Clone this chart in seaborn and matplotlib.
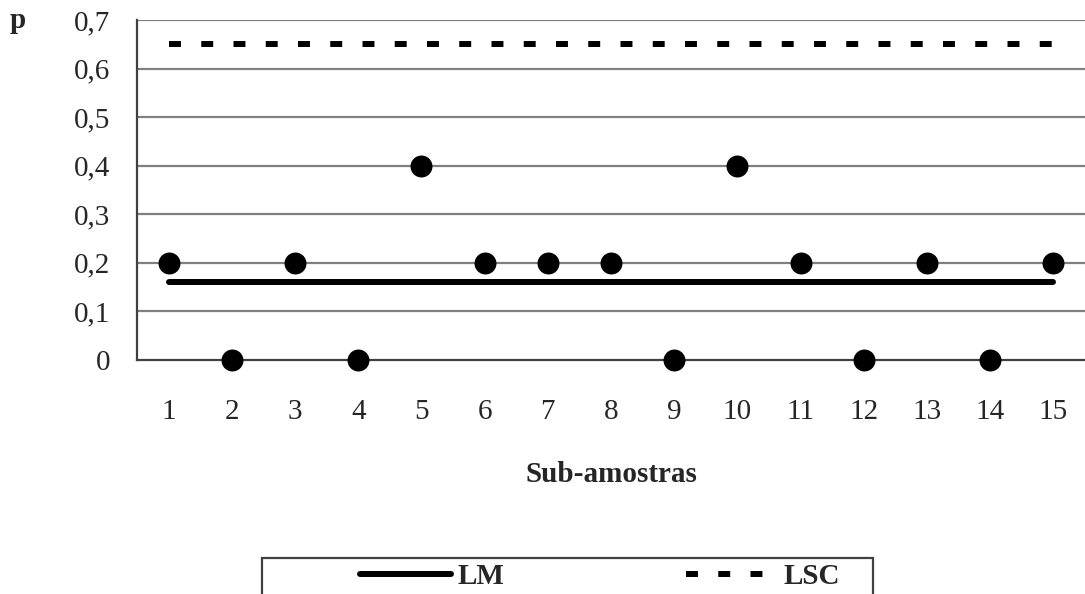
import matplotlib
matplotlib.use("Agg")
import matplotlib.pyplot as plt
import seaborn as sns
import pandas as pd
import numpy as np
from matplotlib.ticker import FixedLocator
from matplotlib.patches import Rectangle

sns.set_theme(style="white")
plt.rcParams['font.family'] = ['Liberation Serif', 'DejaVu Serif']

subamostras = list(range(1, 16))
p_values = [0.2, 0.0, 0.2, 0.0, 0.4, 0.2, 0.2, 0.2, 0.0, 0.4, 0.2, 0.0, 0.2, 0.0, 0.2]
lm_value = 0.16
lsc_value = 0.65
y_ticks = [0, 0.1, 0.2, 0.3, 0.4, 0.5, 0.6, 0.7]
y_tick_labels = ["0", "0,1", "0,2", "0,3", "0,4", "0,5", "0,6", "0,7"]

df = pd.DataFrame({"x": subamostras, "p": p_values,
                   "LM": [lm_value] * len(subamostras),
                   "LSC": [lsc_value] * len(subamostras)})

W, H = 1085, 594
fig = plt.figure(figsize=(W / 100, H / 100), dpi=100)
ax = fig.add_axes([137 / W, 1 - 360 / H, 1 - 137 / W, 340 / H])

FS = 21
ax.set_ylim(0, 0.7)
ax.set_xlim(0.5, 15.5)

for y in y_ticks[1:]:
    ax.axhline(y, color="#808080", lw=1.6, zorder=1)

sns.lineplot(data=df, x="x", y="LM", ax=ax, color="black", lw=4.3,
             solid_capstyle="round", label="LM", zorder=3)
sns.lineplot(data=df, x="x", y="LSC", ax=ax, color="black", lw=4.3,
             label="LSC", zorder=3)
ax.lines[-1].set_dashes((2, 3.4))
ax.lines[-1].set_dash_capstyle("butt")
sns.scatterplot(data=df, x="x", y="p", ax=ax, color="black", s=250,
                edgecolor="black", linewidth=0, zorder=4, legend=False,
                clip_on=False)

for side in ["top", "right"]:
    ax.spines[side].set_visible(False)
for side in ["left", "bottom"]:
    ax.spines[side].set_color("#404040")
    ax.spines[side].set_linewidth(1.6)

ax.set_yticks(y_ticks)
ax.set_yticklabels(y_tick_labels, fontsize=FS)
ax.tick_params(axis="y", length=7, width=1.2, color="#404040", pad=12, direction="out")

ax.xaxis.set_major_locator(FixedLocator(subamostras))
ax.set_xticklabels([str(s) for s in subamostras], fontsize=FS)
ax.xaxis.set_minor_locator(FixedLocator(np.arange(0.5, 15.6, 1)))
ax.tick_params(axis="x", which="major", length=0, pad=28)
ax.tick_params(axis="x", which="minor", length=7, width=1.2, color="#404040", direction="out")

ax.set_xlabel("Sub-amostras", fontsize=FS, fontweight="bold", labelpad=26)
ax.set_ylabel("")
fig.text(18 / W, 1 - 20 / H, "p", fontsize=FS, fontweight="bold", va="center", ha="center")

# legend frame (Excel-style fixed box)
fig.patches.append(Rectangle((262 / W, 1 - 602 / H), (873 - 262) / W, 44 / H,
                             transform=fig.transFigure, facecolor="white",
                             edgecolor="#404040", linewidth=1.6, zorder=0))

handles, labels = ax.get_legend_handles_labels()
ax.get_legend().remove()
leg = fig.legend(handles, labels, loc="center",
                 bbox_to_anchor=(600 / W, 1 - 577 / H), ncol=2,
                 prop={"size": FS, "weight": "bold"}, frameon=False,
                 handlelength=3.1, handletextpad=0.25, columnspacing=6.2,
                 borderpad=0, borderaxespad=0)

fig.savefig("out.png", dpi=100, facecolor="white")
